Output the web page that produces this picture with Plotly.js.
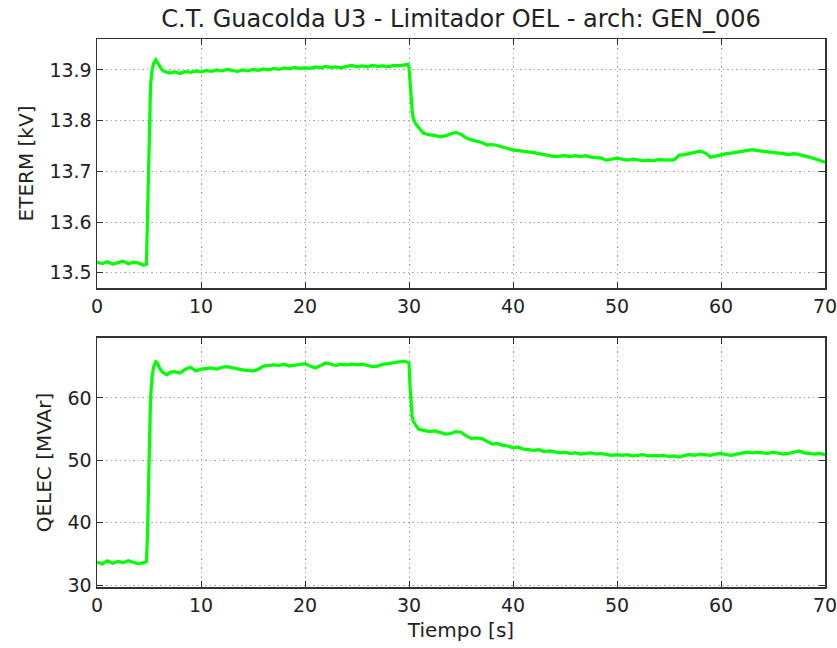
<!DOCTYPE html>
<html>
<head>
<meta charset="utf-8">
<script src="https://cdn.plot.ly/plotly-3.0.1.min.js"></script>
<style>html,body{margin:0;padding:0;background:#fff;}#chart{width:837px;height:648px;}</style>
</head>
<body>
<div id="chart"></div>
<script>
const chartTitle = "C.T. Guacolda U3 - Limitador OEL - arch: GEN_006";
const xTitle = "Tiempo [s]";
const yTitleTop = "ETERM [kV]";
const yTitleBottom = "QELEC [MVAr]";

const time = [
0,0.5,1,1.5,2,2.5,3,3.5,4,4.5,4.75,
4.85,4.95,5.05,5.15,5.3,5.45,5.65,5.8,6.0,6.25,6.5,6.75,7.0,
7.5,8,8.5,9,9.5,10,10.5,11,11.5,12,12.5,13,13.5,14,14.5,15,15.5,16,16.5,17,17.5,18,18.5,19,19.5,20,
20.5,21,21.5,22,22.5,23,23.5,24,24.5,25,25.5,26,26.5,27,27.5,28,28.5,29,29.5,29.9,
30.0,30.1,30.2,30.3,30.4,30.6,30.9,31.4,
32,32.5,33,33.5,34,34.5,35,35.5,36,36.5,37,37.5,38,38.5,39,39.5,40,40.5,41,41.5,
42,42.5,43,43.5,44,44.5,45,45.5,46,46.5,47,47.5,48,48.5,49,49.5,50,50.5,51,51.5,
52,52.5,53,53.5,54,54.5,55,55.5,56,56.5,57,57.5,58,58.5,59,59.5,60,60.5,61,61.5,
62,62.5,63,63.5,64,64.5,65,65.5,66,66.5,67,67.5,68,68.5,69,69.5,70
];

const eterm = [
13.521,13.518,13.522,13.517,13.520,13.523,13.518,13.521,13.519,13.515,13.517,
13.60,13.72,13.82,13.87,13.90,13.913,13.92,13.915,13.908,13.900,13.897,13.895,13.894,
13.896,13.893,13.897,13.895,13.898,13.896,13.899,13.897,13.900,13.898,13.901,13.899,13.897,13.900,13.898,13.901,13.899,13.902,13.900,13.903,13.901,13.904,13.902,13.905,13.903,13.904,
13.903,13.906,13.904,13.907,13.905,13.906,13.904,13.907,13.909,13.906,13.908,13.906,13.909,13.907,13.908,13.906,13.909,13.908,13.910,13.911,
13.905,13.870,13.845,13.820,13.805,13.795,13.787,13.775,
13.772,13.771,13.768,13.770,13.774,13.777,13.773,13.766,13.762,13.760,13.757,13.752,13.753,13.751,13.748,13.745,13.742,13.741,13.740,13.738,
13.737,13.735,13.733,13.731,13.729,13.730,13.731,13.729,13.731,13.729,13.731,13.728,13.727,13.726,13.722,13.724,13.726,13.724,13.722,13.724,
13.722,13.721,13.722,13.721,13.723,13.722,13.722,13.723,13.732,13.733,13.735,13.737,13.740,13.736,13.728,13.730,13.733,13.735,13.736,13.738,
13.740,13.741,13.743,13.741,13.740,13.739,13.738,13.736,13.735,13.733,13.735,13.733,13.731,13.728,13.725,13.722,13.718
];

const qelec = [
33.7,33.4,33.9,33.5,33.8,33.6,33.9,33.7,33.4,33.6,33.8,
38.0,47.0,55.0,60.0,63.5,65.0,65.8,65.6,64.8,64.2,63.9,63.7,64.1,
64.2,64.0,64.6,64.9,64.3,64.6,64.7,64.8,64.6,64.9,65.0,64.8,64.6,64.5,64.4,64.3,64.6,65.1,65.2,65.3,65.2,65.4,65.1,65.2,65.3,65.5,
65.1,64.8,65.2,65.6,65.4,65.2,65.4,65.3,65.4,65.3,65.4,65.2,65.0,65.1,65.4,65.5,65.6,65.7,65.9,65.7,
65.5,61.8,58.5,57.0,56.3,55.7,55.0,54.8,
54.6,54.7,54.5,54.2,54.3,54.6,54.5,53.9,53.5,53.6,53.5,53.0,52.6,52.7,52.4,52.3,52.0,52.1,51.8,51.7,
51.6,51.7,51.4,51.5,51.3,51.2,51.3,51.1,51.2,51.0,51.1,51.2,51.0,51.1,50.9,50.8,50.9,50.8,50.9,50.7,
50.8,50.9,50.7,50.8,50.7,50.8,50.6,50.7,50.5,50.8,50.9,50.8,51.0,50.9,50.8,51.0,51.1,50.9,50.8,51.0,
51.1,51.3,51.2,51.3,51.2,51.1,51.3,51.2,51.0,51.1,51.3,51.5,51.2,51.1,51.0,51.1,50.9
];

const txt = "#222";
const lineColor = "#00ff00";
const gridDash = "1.5px,3px";

function xax(anchor, showTitle) {
  const a = {
    anchor: anchor, range: [0, 70], dtick: 10, tick0: 0,
    ticks: "inside", ticklen: 6, tickwidth: 1, tickcolor: "#333",
    mirror: "allticks", showline: true, linecolor: "#333", linewidth: 1.5,
    showgrid: true, gridcolor: "#a8a8a8", griddash: gridDash, gridwidth: 1,
    zeroline: false, tickfont: {family: "DejaVu Sans", size: 19, color: txt},
    ticklabelstandoff: 1, ticklabeloverflow: "allow"
  };
  if (showTitle) a.title = {text: xTitle, font: {family: "DejaVu Sans", size: 20, color: txt}, standoff: 7};
  return a;
}
function yax(anchor, domain, range, dtick, title) {
  return {
    anchor: anchor, domain: domain, range: range, dtick: dtick,
    ticks: "inside", ticklen: 6, tickwidth: 1, tickcolor: "#333",
    mirror: "allticks", showline: true, linecolor: "#333", linewidth: 1.5,
    showgrid: true, gridcolor: "#a8a8a8", griddash: gridDash, gridwidth: 1,
    zeroline: false, tickfont: {family: "DejaVu Sans", size: 19, color: txt},
    ticklabeloverflow: "allow",
    title: {text: title, font: {family: "DejaVu Sans", size: 20, color: txt}, standoff: 10}
  };
}

const traces = [
  {x: time, y: eterm, type: "scatter", mode: "lines", xaxis: "x", yaxis: "y",
   line: {color: lineColor, width: 3.2}, showlegend: false},
  {x: time, y: qelec, type: "scatter", mode: "lines", xaxis: "x2", yaxis: "y2",
   line: {color: lineColor, width: 3.2}, showlegend: false}
];

const layout = {
  width: 837, height: 648,
  margin: {l: 97, r: 12, t: 39, b: 61},
  paper_bgcolor: "#fff", plot_bgcolor: "#fff",
  font: {family: "DejaVu Sans", size: 19, color: txt},
  title: {text: chartTitle, font: {family: "DejaVu Sans", size: 24, color: txt}, xref: "paper", x: 0.5, xanchor: "center", y: 0.971, yanchor: "middle"},
  xaxis: xax("y", false),
  yaxis: yax("x", [0.5456, 1], [13.47, 13.961], 0.1, yTitleTop),
  xaxis2: xax("y2", true),
  yaxis2: yax("x2", [0, 0.4544], [29.7, 69.6], 10, yTitleBottom)
};

Plotly.newPlot("chart", traces, layout, {displayModeBar: false, staticPlot: true});
</script>
</body>
</html>
